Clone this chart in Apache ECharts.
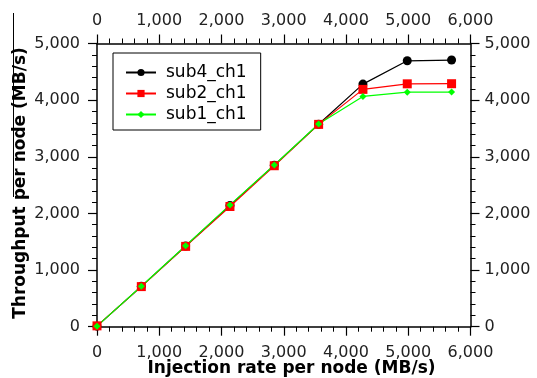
<!DOCTYPE html>
<html>
<head>
<meta charset="utf-8">
<script src="https://cdn.jsdelivr.net/npm/echarts@6/dist/echarts.min.js"></script>
<style>
  html, body { margin: 0; padding: 0; background: #fff; }
  #chart { width: 537px; height: 378px; }
</style>
</head>
<body>
<div id="chart"></div>
<script>
// Injection rate per node (MB/s)
const injection = [0, 712, 1424, 2136, 2848, 3560, 4272, 4984, 5696];
// Throughput per node (MB/s) for each configuration
const sub4_ch1 = [10, 712, 1424, 2140, 2852, 3575, 4283, 4695, 4708];
const sub2_ch1 = [15, 708, 1418, 2122, 2842, 3572, 4190, 4288, 4290];
const sub1_ch1 = [10, 714, 1430, 2150, 2856, 3578, 4066, 4140, 4142];

const xTicks = { min: 0, max: 6000, interval: 1000 };
const yTicks = { min: 0, max: 5000, interval: 1000 };

const FONT = 'DejaVu Sans';
const fmt = v => String(v).replace(/\B(?=(\d{3})+(?!\d))/g, ',');

function pairs(xs, ys) { return xs.map((x, i) => [x, ys[i]]); }

function axisCommon(pos, t, margin) {
  return {
    type: 'value', position: pos,
    min: t.min, max: t.max, interval: t.interval,
    axisLine: { show: true, onZero: false, lineStyle: { color: '#000', width: 1.5 } },
    axisTick: { show: true, inside: false, length: 9, lineStyle: { color: '#000', width: 1.2 } },
    minorTick: { show: true, splitNumber: 5, length: 5, lineStyle: { color: '#000', width: 1 } },
    splitLine: { show: false },
    axisLabel: { formatter: fmt, color: '#222', fontFamily: FONT, fontSize: 16, margin: margin }
  };
}

const chart = echarts.init(document.getElementById('chart'), null, { renderer: 'canvas' });

function lineSeries(name, ys, color, symbol, size) {
  return {
    name: name, type: 'line', xAxisIndex: 0, yAxisIndex: 0,
    data: pairs(injection, ys),
    symbol: symbol, symbolSize: size,
    lineStyle: { color: color, width: 1.2 },
    itemStyle: { color: color },
    animation: false
  };
}

chart.setOption({
  animation: false,
  backgroundColor: '#fff',
  grid: { left: 97, right: 66.5, top: 43.5, bottom: 51.3, containLabel: false },
  xAxis: [
    axisCommon('bottom', xTicks, 18),
    axisCommon('top', xTicks, 15)
  ],
  yAxis: [
    axisCommon('left', yTicks, 17),
    axisCommon('right', yTicks, 14)
  ],
  legend: {
    orient: 'vertical', left: 113, top: 53,
    data: ['sub4_ch1', 'sub2_ch1', 'sub1_ch1'],
    backgroundColor: '#fff', borderColor: '#000', borderWidth: 1, borderRadius: 0,
    padding: [11, 14, 7, 12],
    itemWidth: 30, itemHeight: 9, itemGap: 4,
    textStyle: { fontFamily: FONT, fontSize: 17, color: '#000', padding: [0, 0, 0, 5] }
  },
  series: [
    lineSeries('sub4_ch1', sub4_ch1, '#000000', 'circle', 9),
    lineSeries('sub2_ch1', sub2_ch1, '#ff0000', 'rect', 9),
    lineSeries('sub1_ch1', sub1_ch1, '#00ff00', 'diamond', 7)
  ],
  graphic: [
    {
      type: 'text', x: 291.5, y: 369,
      style: { text: 'Injection rate per node (MB/s)', font: 'bold 17px "DejaVu Sans"', fill: '#000', align: 'center', verticalAlign: 'middle' }
    },
    {
      type: 'text', x: 21, y: 183, rotation: Math.PI / 2,
      style: { text: 'Throughput per node (MB/s)', font: 'bold 17px "DejaVu Sans"', fill: '#000', align: 'center', verticalAlign: 'middle' }
    },
    {
      type: 'line', shape: { x1: 13.5, y1: 13, x2: 13.5, y2: 197 },
      style: { stroke: '#000', lineWidth: 1 }
    }
  ]
});
</script>
</body>
</html>
